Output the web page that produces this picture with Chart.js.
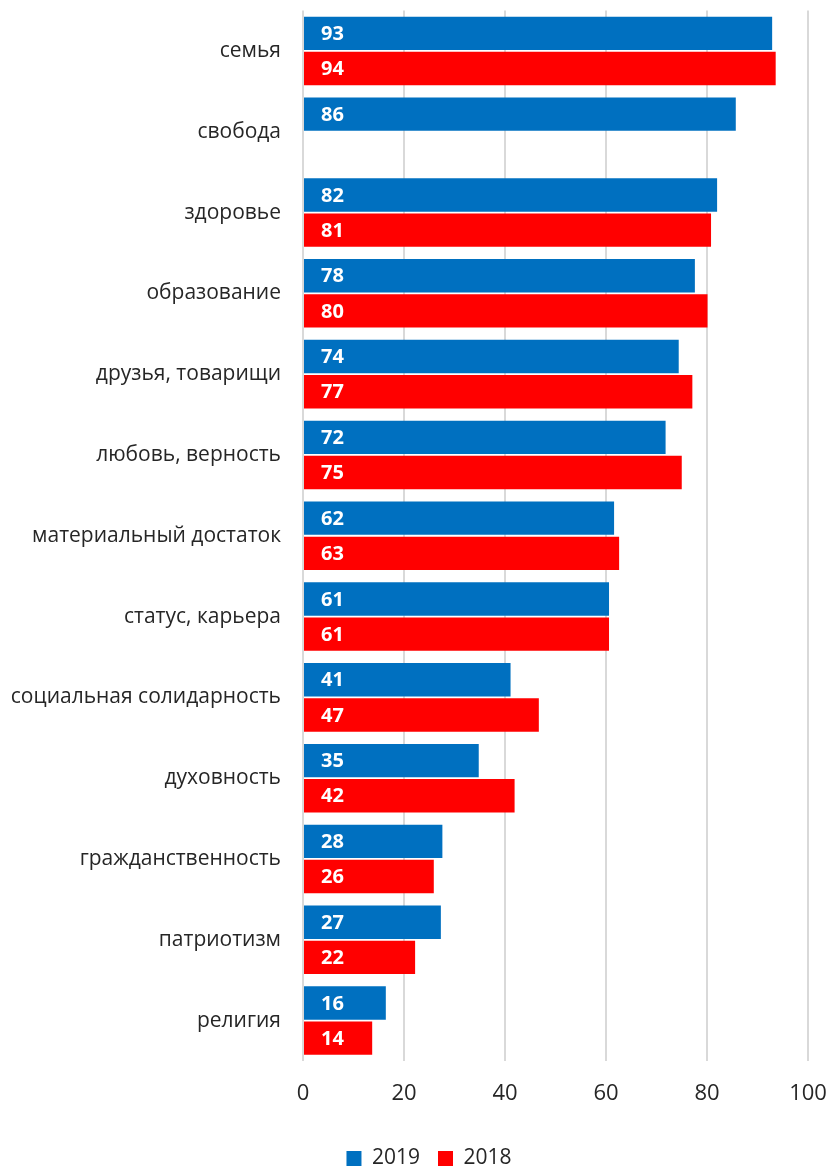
<!DOCTYPE html>
<html>
<head>
<meta charset="utf-8">
<script src="https://cdn.jsdelivr.net/npm/chart.js@4"></script>
<style>
  html, body { margin: 0; padding: 0; background: #fff; }
  #wrap { width: 832px; height: 1168px; }
</style>
</head>
<body>
<div id="wrap"><canvas id="bar-chart"></canvas></div>
<script>
const categories = ["семья", "свобода", "здоровье", "образование", "друзья, товарищи",
  "любовь, верность", "материальный достаток", "статус, карьера",
  "социальная солидарность", "духовность", "гражданственность", "патриотизм", "религия"];

// values, labels show rounded numbers
const values2019 = [92.9, 85.7, 82.0, 77.6, 74.4, 71.8, 61.6, 60.6, 41.1, 34.8, 27.6, 27.3, 16.4];
const values2018 = [93.6, null, 80.8, 80.1, 77.1, 75.0, 62.6, 60.6, 46.7, 41.9, 25.9, 22.2, 13.7];

const xTicks = [0, 20, 40, 60, 80, 100];

const FONT = "'Open Sans', 'Noto Sans', sans-serif";

const barLabels = {
  id: "barLabels",
  afterDatasetsDraw(chart) {
    const ctx = chart.ctx;
    ctx.save();
    ctx.fillStyle = "#ffffff";
    ctx.font = "700 20px " + FONT;
    ctx.textAlign = "left";
    ctx.textBaseline = "middle";
    chart.data.datasets.forEach((ds, i) => {
      const meta = chart.getDatasetMeta(i);
      meta.data.forEach((bar, j) => {
        const v = ds.data[j];
        if (v === null) return;
        ctx.fillText(Math.round(v), bar.base + 17, bar.y + 1);
      });
    });
    ctx.restore();
  }
};

// legend sits a bit right of centre in the original
const legendShift = {
  id: "legendShift",
  afterLayout(chart) {
    chart.legend.left += 25;
    chart.legend.right += 25;
  }
};

new Chart(document.getElementById("bar-chart"), {
  type: "bar",
  data: {
    labels: categories,
    datasets: [
      {
        label: "2019",
        data: values2019,
        backgroundColor: "#0070c0",
        categoryPercentage: 0.87,
        barPercentage: 0.95
      },
      {
        label: "2018",
        data: values2018,
        backgroundColor: "#ff0000",
        categoryPercentage: 0.87,
        barPercentage: 0.95
      }
    ]
  },
  plugins: [barLabels, legendShift],
  options: {
    indexAxis: "y",
    responsive: true,
    maintainAspectRatio: false,
    animation: false,
    layout: { padding: { left: 0, right: 24, top: 0, bottom: -11 } },
    plugins: {
      legend: {
        position: "bottom",
        labels: {
          boxWidth: 15,
          boxHeight: 15,
          padding: 18,
          color: "#262626",
          font: { family: FONT, size: 21 }
        }
      },
      tooltip: { enabled: false }
    },
    scales: {
      x: {
        min: 0,
        max: 100,
        afterBuildTicks: (scale) => { scale.ticks = xTicks.map(v => ({ value: v })); },
        afterFit: (scale) => { scale.height = 69; },
        grid: { color: "#d9d9d9", lineWidth: 2, drawTicks: true, tickLength: 20, tickColor: "transparent" },
        border: { display: false },
        ticks: {
          padding: 0,
          color: "#262626",
          font: { family: FONT, size: 22 }
        }
      },
      y: {
        grid: { display: true, drawOnChartArea: false, color: "transparent", tickColor: "transparent", tickLength: 22 },
        border: { display: false },
        afterFit: (scale) => { scale.width = 303; },
        ticks: {
          padding: 0,
          color: "#262626",
          font: { family: FONT, size: 21, lineHeight: 1 }
        }
      }
    }
  }
});
</script>
</body>
</html>
